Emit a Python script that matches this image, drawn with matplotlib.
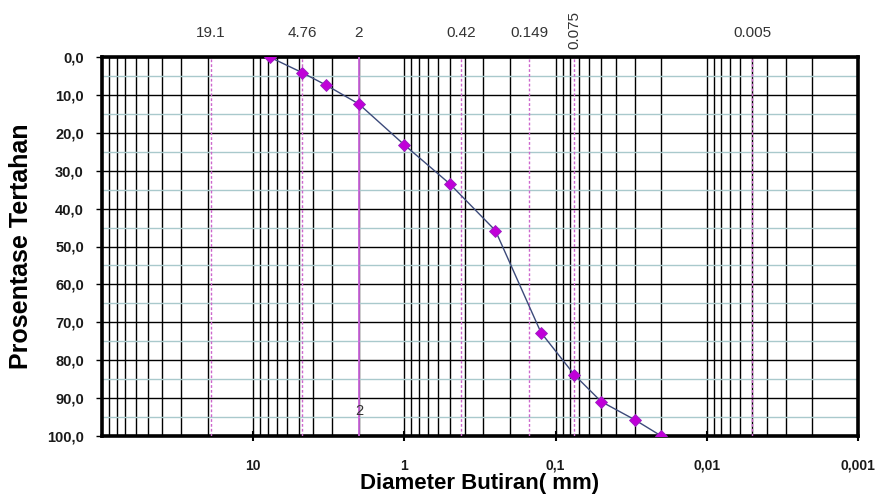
import matplotlib
matplotlib.use('Agg')
import matplotlib.pyplot as plt
import matplotlib.transforms as mtransforms
from matplotlib.ticker import FixedLocator, FixedFormatter, NullFormatter, LogLocator

plt.rcParams['font.family'] = ['Liberation Sans', 'DejaVu Sans']

# grain size analysis (sieve + hydrometer)
diameter = [7.8, 4.76, 3.3, 2.0, 1.0, 0.5, 0.25, 0.125, 0.075, 0.05, 0.03, 0.02]
retained = [0.0, 4.1, 7.4, 12.4, 23.2, 33.5, 45.8, 72.7, 83.9, 90.9, 95.7, 100.0]

# reference sieve sizes drawn as vertical lines
sieve_sizes = [19.1, 4.76, 2, 0.42, 0.149, 0.075, 0.005]
sieve_labels = ['19.1', '4.76', '2', '0.42', '0.149', '0.075', '0.005']

x_major = [10, 1, 0.1, 0.01, 0.001]
x_major_labels = ['10', '1', '0,1', '0,01', '0,001']
y_major = list(range(0, 101, 10))
y_major_labels = ['{:.1f}'.format(v).replace('.', ',') for v in y_major]
y_light = list(range(5, 100, 10))

fig = plt.figure(figsize=(8.79, 5.0), dpi=100)
ax = fig.add_axes([102 / 879, 1 - 436 / 500, 756 / 879, 379 / 500])

ax.set_xscale('log')
ax.set_xlim(100, 0.001)
ax.set_ylim(100, 0)

# light lines at the half steps
for yv in y_light:
    ax.axhline(yv, color='#a9c9cc', lw=1.0, zorder=1)

ax.xaxis.set_major_locator(FixedLocator(x_major))
ax.xaxis.set_major_formatter(FixedFormatter(x_major_labels))
ax.xaxis.set_minor_locator(LogLocator(base=10, subs=range(2, 10), numticks=50))
ax.xaxis.set_minor_formatter(NullFormatter())
ax.yaxis.set_major_locator(FixedLocator(y_major))
ax.yaxis.set_major_formatter(FixedFormatter(y_major_labels))

ax.grid(which='major', color='black', lw=1.0, zorder=2)
ax.grid(which='minor', axis='x', color='black', lw=1.0, zorder=2)
ax.set_axisbelow(True)

ax.tick_params(axis='x', which='minor', length=0)
ax.tick_params(axis='x', which='major', direction='inout', length=7, width=1.5, pad=13,
               labelsize=10)
ax.tick_params(axis='y', which='major', direction='out', length=4, width=1, pad=9,
               labelsize=10.5)
for lab in ax.get_xticklabels() + ax.get_yticklabels():
    lab.set_fontweight('bold')
    lab.set_color('#1a1a1a')

for sp in ax.spines.values():
    sp.set_linewidth(2.6)
    sp.set_color('black')

# sieve reference lines and their labels above the plot
trans = mtransforms.blended_transform_factory(ax.transData, ax.transAxes)
for size, lab in zip(sieve_sizes, sieve_labels):
    if lab == '2':
        ax.axvline(size, color='#cc66dd', lw=1.3, zorder=3)
    else:
        ax.axvline(size, color='#cc66cc', lw=1.0, ls=(0, (2, 1.5)), zorder=3)
    if lab == '0.075':
        ax.text(size, 1.02, lab, transform=trans, rotation=90, ha='center',
                va='bottom', fontsize=11, color='#333333')
    else:
        ax.text(size, 1.045, lab, transform=trans, ha='center', va='bottom',
                fontsize=11, color='#333333')

ax.text(2, 93.4, '2', ha='center', va='center', fontsize=10.5, color='#333333', zorder=4)

ax.plot(diameter, retained, color='#3c4a7a', lw=1.0, zorder=5)
ax.plot(diameter, retained, ls='none', marker='D', ms=6.5, mfc='#c000d8', mec='#9a20c0',
        mew=0.6, zorder=6)

ax.set_xlabel('Diameter Butiran( mm)', fontsize=16, fontweight='bold', va='center')
ax.xaxis.set_label_coords(0.5, -(484 - 436) / 379)
ax.set_ylabel('Prosentase Tertahan', fontsize=18, fontweight='bold', va='center')
ax.yaxis.set_label_coords(-(102 - 21) / 756, 0.5)

fig.savefig('out.png', dpi=100)
